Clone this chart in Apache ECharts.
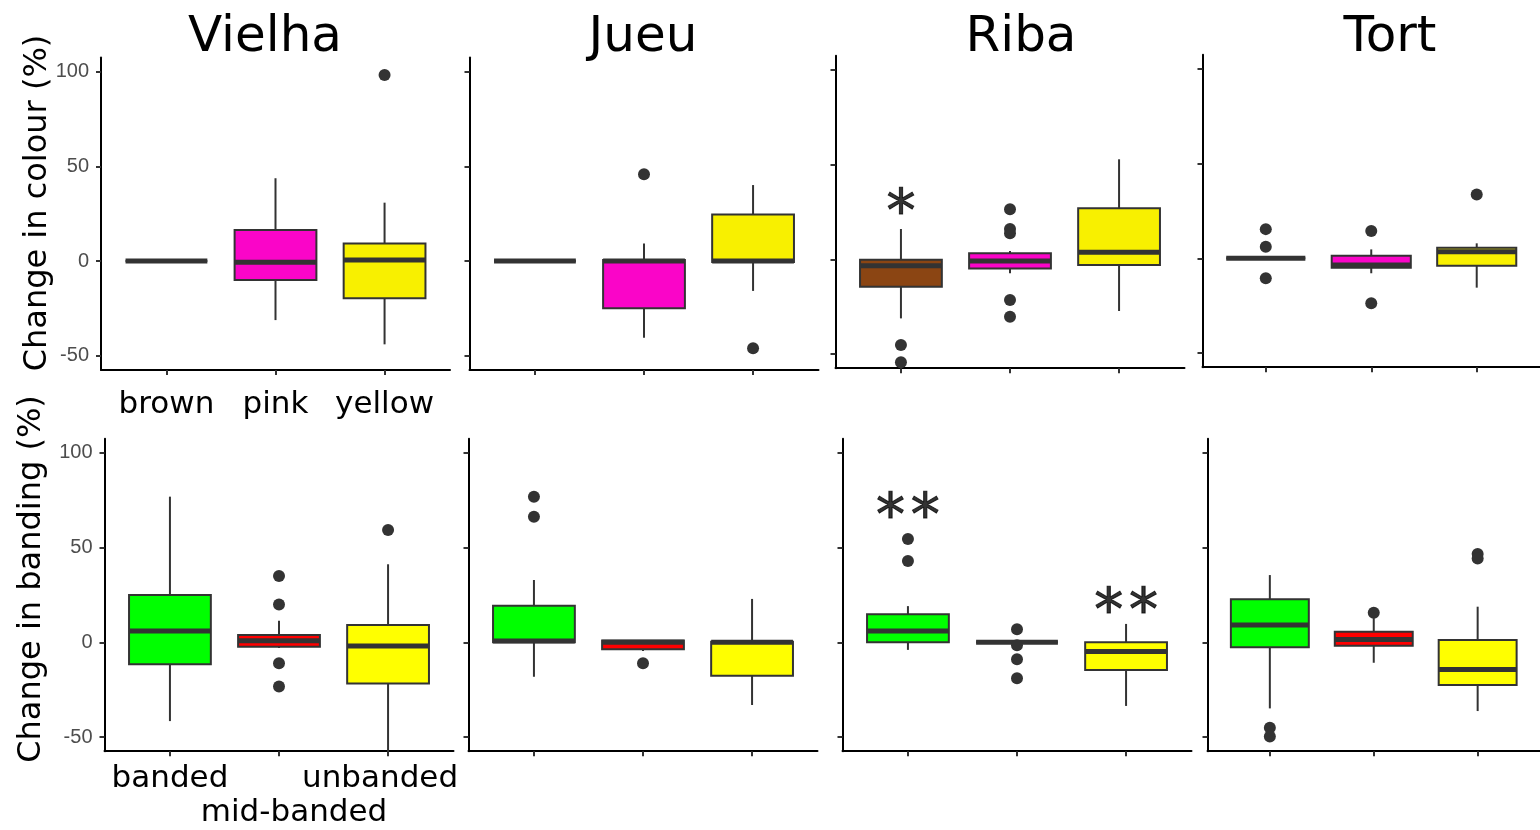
<!DOCTYPE html>
<html><head><meta charset="utf-8">
<script src="https://cdn.jsdelivr.net/npm/echarts@6/dist/echarts.min.js"></script>
<style>html,body{margin:0;padding:0;background:#fff}#c{width:1540px;height:830px}</style>
</head><body><div id="c"></div>
<script>
// ---------- data ----------
const sites = ['Vielha', 'Jueu', 'Riba', 'Tort'];
const colourCats = ['brown', 'pink', 'yellow'];
const bandCats = ['banded', 'mid-banded', 'unbanded'];
const yTicks = [-50, 0, 50, 100];
const xTicks = [1, 2, 3];
const colourFills = ['#8B4513', '#FA05C8', '#F8F000'];
const bandFills = ['#00FF00', '#FF0000', '#FFFF00'];

// [low whisker, Q1, median, Q3, high whisker] for each category
const colourVielha = [[0, 0, 0, 0, 0], [-31.2, -10, -0.7, 16.4, 43.7], [-44, -19.7, 0.5, 9.3, 30.8]];
const colourJueu   = [[0, 0, 0, 0, 0], [-40.5, -25, 0, 0.5, 9.3], [-15.8, -0.5, 0, 24.6, 40.1]];
const colourRiba   = [[-31.2, -14.5, -3.4, -0.2, 16], [-7.4, -4.8, -0.9, 3.2, 4.4], [-27.3, -3, 3.7, 26.9, 52.8]];
const colourTort   = [[0, 0, 0, 0, 0], [-7.9, -5, -3.5, 1.4, 4.7], [-15.5, -3.9, 3.5, 5.6, 7.9]];
const bandVielha   = [[-41.6, -11.6, 6, 25, 76.9], [-3, -2.3, 0.8, 3.9, 11.4], [-58, -21.7, -2, 9.1, 41.2]];
const bandJueu     = [[-18.2, 0, 0.7, 19.3, 32.9], [-4.6, -3.7, 0, 0.9, 0.9], [-33.1, -17.6, 0, 0.3, 22.9]];
const bandRiba     = [[-4, 0, 6, 14.8, 19.1], [0, 0, 0, 0, 0], [-33.6, -14.6, -4.9, 0, 9.7]];
const bandTort     = [[-34.9, -2.6, 9.1, 22.7, 35.5], [-10.8, -1.8, 1.5, 5.6, 12.8], [-36.3, -22.5, -14.3, 1.2, 18.8]];

// outliers: [category position, value]
const outColourVielha = [[3, 98.2]];
const outColourJueu   = [[2, 45.8], [3, -46.1]];
const outColourRiba   = [[1, -45.3], [1, -54.4], [2, 26.4], [2, 16], [2, 13.7], [2, -21.5], [2, -30.3]];
const outColourTort   = [[1, 15.4], [1, 6.1], [1, -10.5], [2, 14.4], [2, -23.7], [3, 33.7]];
const outBandVielha   = [[2, 35], [2, 20], [2, -11.1], [2, -23.4], [3, 59.3]];
const outBandJueu     = [[1, 76.9], [1, 66.3], [2, -11.1]];
const outBandRiba     = [[1, 54.5], [1, 42.9], [2, 6.9], [2, -1.5], [2, -9], [2, -19]];
const outBandTort     = [[1, -45.1], [1, -49.8], [2, 15.6], [3, 46.6], [3, 44.3]];

// significance marks: [category position, value, text]
const marksColourRiba = [[1, 30.4, '*']];
const marksBandRiba = [[1, 71.9, '*\u200A*'], [3, 21.8, '*\u200A*']];

// ---------- layout ----------
const Y_MIN = -57.5, Y_MAX = 107.5;
const PANEL_H = 312.5, PANEL_W = 349;
const topRowTop = [57.4, 57.4, 55.7, 54.7];
const topRowLeft = [101, 469.5, 835.5, 1202.5];
const botRowTop = [438.7, 438.7, 438.7, 438.7];
const botRowLeft = [104.5, 468.5, 842.5, 1207.5];

const panels = [
  { stats: colourVielha, out: outColourVielha, fills: colourFills, cats: colourCats, marks: [] },
  { stats: colourJueu, out: outColourJueu, fills: colourFills, cats: colourCats, marks: [] },
  { stats: colourRiba, out: outColourRiba, fills: colourFills, cats: colourCats, marks: marksColourRiba },
  { stats: colourTort, out: outColourTort, fills: colourFills, cats: colourCats, marks: [] },
  { stats: bandVielha, out: outBandVielha, fills: bandFills, cats: bandCats, marks: [] },
  { stats: bandJueu, out: outBandJueu, fills: bandFills, cats: bandCats, marks: [] },
  { stats: bandRiba, out: outBandRiba, fills: bandFills, cats: bandCats, marks: marksBandRiba },
  { stats: bandTort, out: outBandTort, fills: bandFills, cats: bandCats, marks: [] }
];

const SANS = 'DejaVu Sans';
const grids = [], xAxes = [], yAxes = [], series = [];

function renderBox(params, api) {
  const x = api.value(0);
  const lo = api.coord([x, api.value(1)]);
  const q1 = api.coord([x, api.value(2)]);
  const md = api.coord([x, api.value(3)]);
  const q3 = api.coord([x, api.value(4)]);
  const hi = api.coord([x, api.value(5)]);
  const hw = api.size([0.75, 0])[0] / 2;
  const cx = q1[0];
  const color = api.visual('color');
  const ln = { stroke: '#333333', lineWidth: 2 };
  return {
    type: 'group',
    children: [
      { type: 'line', shape: { x1: cx, y1: hi[1], x2: cx, y2: q3[1] }, style: ln },
      { type: 'line', shape: { x1: cx, y1: q1[1], x2: cx, y2: lo[1] }, style: ln },
      { type: 'rect', shape: { x: cx - hw, y: q3[1], width: 2 * hw, height: q1[1] - q3[1] },
        style: { fill: color, stroke: '#333333', lineWidth: 2 } },
      { type: 'line', shape: { x1: cx - hw, y1: md[1], x2: cx + hw, y2: md[1] },
        style: { stroke: '#333333', lineWidth: 5 } }
    ]
  };
}

const labelFont = { fontFamily: SANS, fontSize: 31, color: '#000' };

panels.forEach((p, i) => {
  const row = i < 4 ? 0 : 1;
  const col = i % 4;
  const isLeft = col === 0;
  grids.push({
    left: row === 0 ? topRowLeft[col] : botRowLeft[col],
    top: row === 0 ? topRowTop[col] : botRowTop[col],
    width: PANEL_W, height: PANEL_H, containLabel: false
  });
  const cats = p.cats;
  const isBand = row === 1;
  xAxes.push({
    gridIndex: i, type: 'value', min: 0.4, max: 3.6, position: 'bottom',
    splitLine: { show: false },
    axisLine: { show: true, onZero: false, lineStyle: { color: '#000', width: 2 } },
    axisTick: { show: true, customValues: xTicks, length: 5, lineStyle: { color: '#333333', width: 2 } },
    axisLabel: Object.assign({
      show: isLeft, customValues: isBand ? [1, 3] : xTicks,
      showMinLabel: true, showMaxLabel: true, hideOverlap: false,
      margin: isBand ? 12 : 20,
      formatter: function (v) {
        const k = Math.round(v) - 1;
        if (isBand && k === 2) return '{u|' + cats[k] + '}';
        return cats[k];
      },
      rich: { u: Object.assign({ padding: [0, 16, 0, 0] }, labelFont) }
    }, labelFont)
  });
  yAxes.push({
    gridIndex: i, type: 'value', min: Y_MIN, max: Y_MAX, position: 'left',
    splitLine: { show: false },
    axisLine: { show: true, onZero: false, lineStyle: { color: '#000', width: 2 } },
    axisTick: { show: true, customValues: yTicks, length: 5, lineStyle: { color: '#333333', width: 2 } },
    axisLabel: {
      show: isLeft, customValues: yTicks, margin: 12,
      showMinLabel: true, showMaxLabel: true,
      fontFamily: 'Liberation Sans', fontSize: 20, color: '#4D4D4D'
    }
  });
  series.push({
    type: 'custom', xAxisIndex: i, yAxisIndex: i,
    renderItem: renderBox,
    encode: { x: 0, y: [1, 2, 3, 4, 5] },
    data: p.stats.map((s, k) => ({ value: [k + 1].concat(s), itemStyle: { color: p.fills[k] } })),
    z: 2, silent: true
  });
  series.push({
    type: 'scatter', xAxisIndex: i, yAxisIndex: i,
    data: p.out, symbolSize: 12,
    itemStyle: { color: '#333333', opacity: 1 },
    z: 3, silent: true
  });
  if (p.marks.length) {
    series.push({
      type: 'scatter', xAxisIndex: i, yAxisIndex: i,
      data: p.marks, symbolSize: 1, itemStyle: { color: 'rgba(0,0,0,0)' },
      label: {
        show: true, position: 'inside', formatter: d => d.data[2],
        fontFamily: SANS, fontSize: 58, color: '#000', offset: [0, 14],
        textBorderColor: '#000', textBorderWidth: 1
      },
      z: 4, silent: true
    });
  }
});

// second label row (dodged) for the middle banding category
xAxes.push({
  gridIndex: 4, type: 'value', min: 0.4, max: 3.6, position: 'bottom', offset: 0,
  splitLine: { show: false }, axisLine: { show: false }, axisTick: { show: false },
  axisLabel: Object.assign({
    show: true, customValues: [2], margin: 46,
    showMinLabel: true, showMaxLabel: true,
    formatter: v => '{m|' + bandCats[Math.round(v) - 1] + '}',
    rich: { m: Object.assign({ padding: [0, 0, 0, 30] }, labelFont) }
  }, labelFont)
});

const titleX = [265, 643, 1021, 1390];
const graphic = sites.map((s, k) => ({
  type: 'text', x: titleX[k], y: 38,
  style: { text: s, fontFamily: SANS, fontSize: 50, fill: '#000', textAlign: 'center', textVerticalAlign: 'middle' }
}));
graphic.push({
  type: 'text', x: 38, y: 203, rotation: Math.PI / 2,
  style: { text: 'Change in colour (%)', fontFamily: SANS, fontSize: 32, fill: '#000', textAlign: 'center', textVerticalAlign: 'middle' }
});
graphic.push({
  type: 'text', x: 32, y: 579, rotation: Math.PI / 2,
  style: { text: 'Change in banding (%)', fontFamily: SANS, fontSize: 32, fill: '#000', textAlign: 'center', textVerticalAlign: 'middle' }
});

const chart = echarts.init(document.getElementById('c'), null, { renderer: 'canvas' });
chart.setOption({
  animation: false,
  backgroundColor: '#fff',
  grid: grids, xAxis: xAxes, yAxis: yAxes, series: series, graphic: graphic
});
</script></body></html>
